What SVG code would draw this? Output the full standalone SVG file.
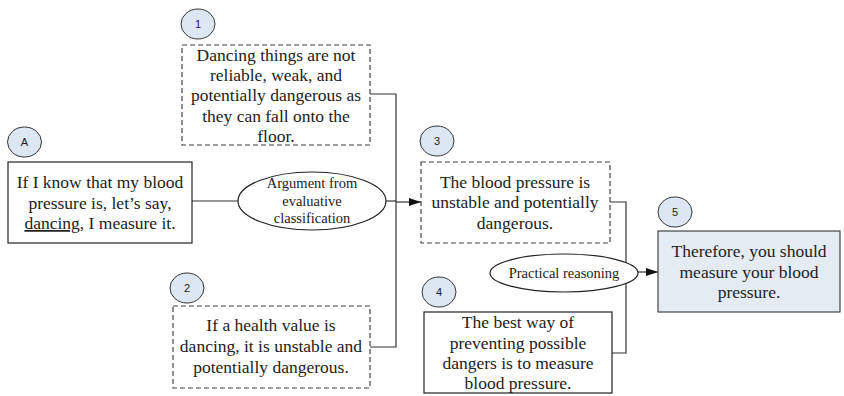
<svg xmlns="http://www.w3.org/2000/svg" width="844" height="396" viewBox="0 0 844 396">
<defs>
<marker id="arr" markerWidth="12" markerHeight="8" refX="12" refY="4" orient="auto" markerUnits="userSpaceOnUse">
<path d="M0,0 L12,4 L0,8 Z" fill="#111"/>
</marker>
</defs>
<style>
.box{fill:#fff;stroke:#222;stroke-width:1.2}
.dash{fill:#fff;stroke:#444;stroke-width:1.2;stroke-dasharray:5,3}
.blue{fill:#e4ebf3;stroke:#444;stroke-width:1.2}
.num{fill:#dde7f3;stroke:#333;stroke-width:1}
.nt{font-family:"Liberation Sans",Arial,sans-serif;font-size:11px;fill:#222;text-anchor:middle}
.t{font-family:"Liberation Serif","Times New Roman",serif;font-size:17.5px;fill:#222;text-anchor:middle}
.et{font-family:"Liberation Serif","Times New Roman",serif;font-size:14.5px;fill:#222;text-anchor:middle}
.ell{fill:#fff;stroke:#222;stroke-width:1.2}
.ln{fill:none;stroke:#333;stroke-width:1.2}
</style>
<g id="connectors">
<path class="ln" d="M192,201 H238"/>
<path class="ln" d="M386,201 H396"/>
<path class="ln" d="M370,94 H396 V347 H370"/>
<path class="ln" d="M396,202 H421" marker-end="url(#arr)"/>
<path class="ln" d="M610,202 H626 V353 H612"/>
<path class="ln" d="M626,272 H658" marker-end="url(#arr)"/>
</g>
<g id="nodeA">
<ellipse class="num" cx="24.5" cy="142" rx="17" ry="15"/>
<text class="nt" x="24.5" y="146">A</text>
<rect class="box" x="8" y="162" width="184" height="81"/>
<text class="t" x="100" y="188">If I know that my blood</text>
<text class="t" x="100" y="209">pressure is, let’s say,</text>
<text class="t" x="100" y="229"><tspan text-decoration="underline">dancing</tspan>, I measure it.</text>
</g>
<g id="arg1">
<ellipse class="ell" cx="312" cy="201" rx="74" ry="29"/>
<text class="et" x="312" y="188">Argument from</text>
<text class="et" x="312" y="206">evaluative</text>
<text class="et" x="312" y="223">classification</text>
</g>
<g id="node1">
<ellipse class="num" cx="198" cy="24" rx="17" ry="15"/>
<text class="nt" x="198" y="28">1</text>
<rect class="dash" x="182" y="45" width="188" height="100"/>
<text class="t" x="276" y="61">Dancing things are not</text>
<text class="t" x="276" y="81">reliable, weak, and</text>
<text class="t" x="276" y="101">potentially dangerous as</text>
<text class="t" x="276" y="122">they can fall onto the</text>
<text class="t" x="276" y="142">floor.</text>
</g>
<g id="node2">
<ellipse class="num" cx="187" cy="288" rx="17" ry="15"/>
<text class="nt" x="187" y="292">2</text>
<rect class="dash" x="173" y="306" width="197" height="82"/>
<text class="t" x="271" y="331">If a health value is</text>
<text class="t" x="271" y="352">dancing, it is unstable and</text>
<text class="t" x="271" y="373">potentially dangerous.</text>
</g>
<g id="node3">
<ellipse class="num" cx="437" cy="141" rx="17" ry="15"/>
<text class="nt" x="437" y="145">3</text>
<rect class="dash" x="421" y="162" width="189" height="81"/>
<text class="t" x="515" y="188">The blood pressure is</text>
<text class="t" x="515" y="208">unstable and potentially</text>
<text class="t" x="515" y="229">dangerous.</text>
</g>
<g id="arg2">
<ellipse class="ell" cx="564" cy="273" rx="74" ry="19"/>
<text class="et" x="564" y="278">Practical reasoning</text>
</g>
<g id="node4">
<ellipse class="num" cx="439" cy="292" rx="17" ry="15"/>
<text class="nt" x="439" y="296">4</text>
<rect class="box" x="424" y="312" width="188" height="81"/>
<text class="t" x="518" y="328">The best way of</text>
<text class="t" x="518" y="349">preventing possible</text>
<text class="t" x="518" y="369">dangers is to measure</text>
<text class="t" x="518" y="389">blood pressure.</text>
</g>
<g id="node5">
<ellipse class="num" cx="675" cy="212" rx="17" ry="15"/>
<text class="nt" x="675" y="216">5</text>
<rect class="blue" x="658" y="231" width="182" height="81"/>
<text class="t" x="749" y="257">Therefore, you should</text>
<text class="t" x="749" y="278">measure your blood</text>
<text class="t" x="749" y="298">pressure.</text>
</g>
</svg>
